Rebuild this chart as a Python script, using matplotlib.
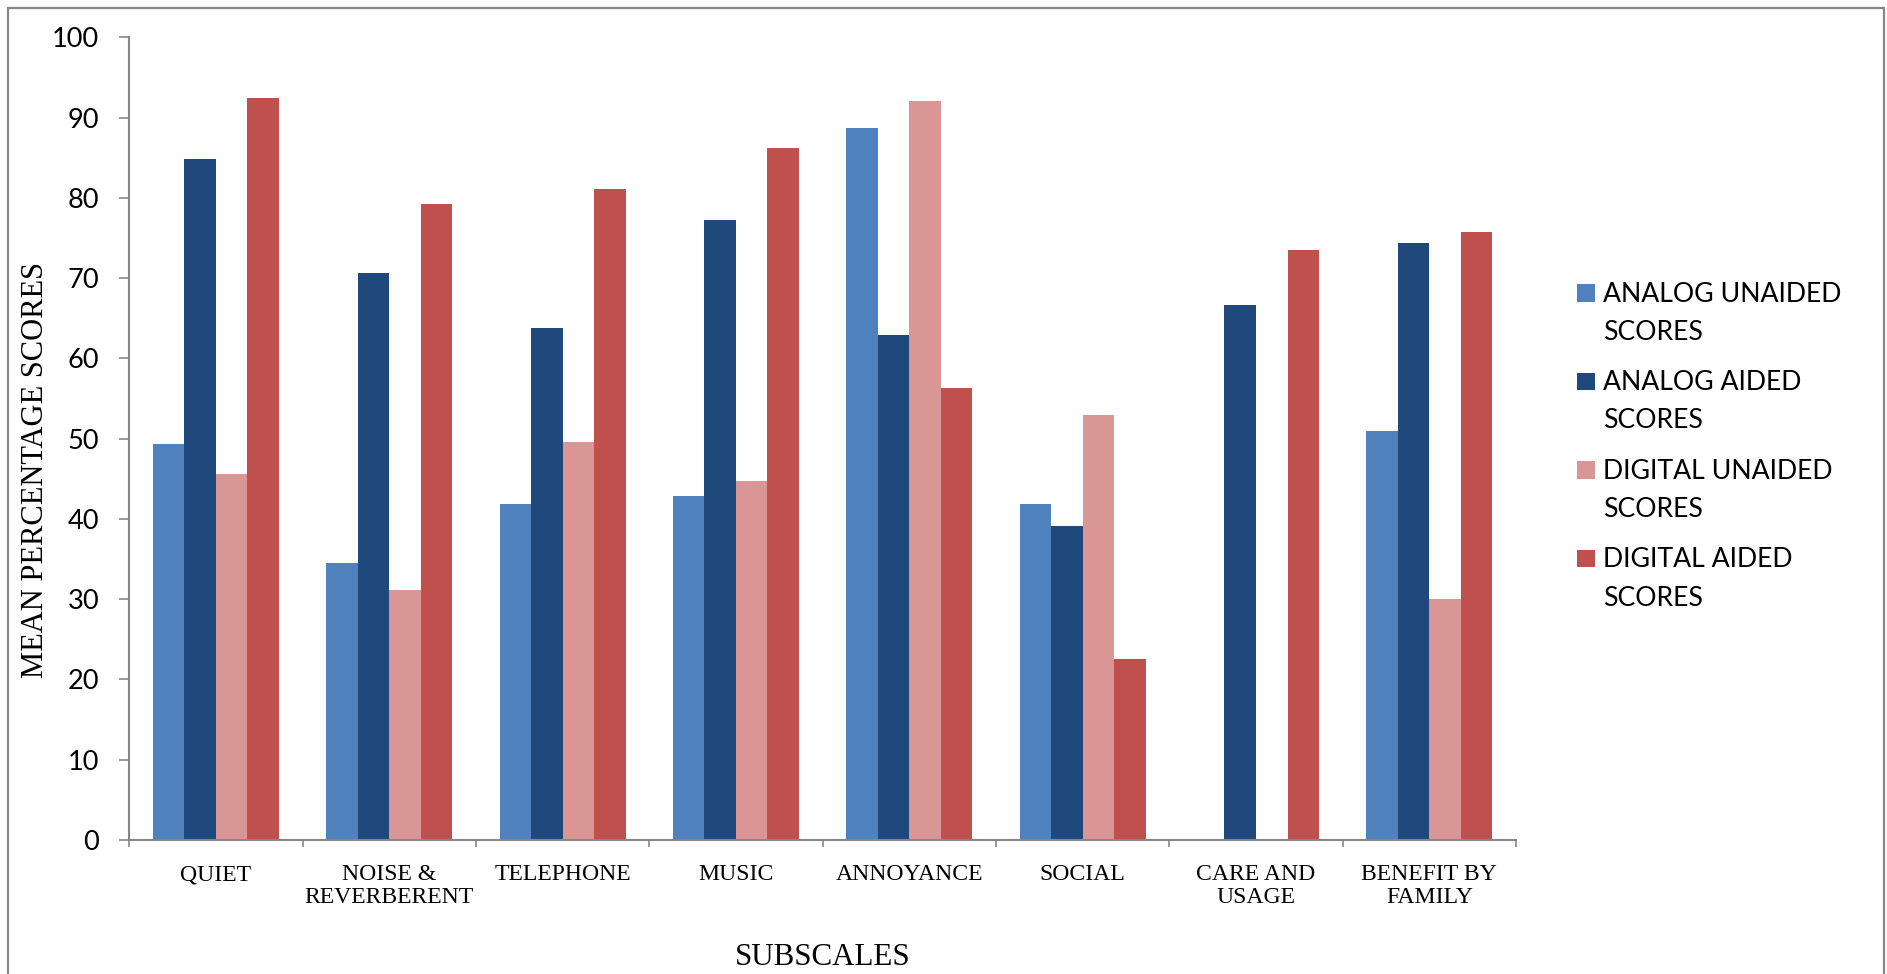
import numpy as np
import matplotlib
matplotlib.use("Agg")
import matplotlib.pyplot as plt
from matplotlib.patches import Rectangle

# ---- data -------------------------------------------------------------
subscales = ["QUIET", "NOISE &\nREVERBERENT", "TELEPHONE", "MUSIC",
             "ANNOYANCE", "SOCIAL", "CARE AND\nUSAGE", "BENEFIT BY\nFAMILY"]

analog_unaided = [49.3, 34.5, 41.8, 42.9, 88.7, 41.8, np.nan, 50.9]
analog_aided = [84.9, 70.6, 63.8, 77.3, 62.9, 39.1, 66.7, 74.4]
digital_unaided = [45.6, 31.2, 49.6, 44.7, 92.1, 53.0, np.nan, 30.0]
digital_aided = [92.5, 79.2, 81.1, 86.2, 56.3, 22.6, 73.5, 75.8]

series_names = ["ANALOG UNAIDED\nSCORES", "ANALOG AIDED\nSCORES",
                "DIGITAL UNAIDED\nSCORES", "DIGITAL AIDED\nSCORES"]
series_colors = ["#4F81BD", "#1F497D", "#D99694", "#C0504D"]

y_ticks = [0, 10, 20, 30, 40, 50, 60, 70, 80, 90, 100]

# ---- figure -----------------------------------------------------------
W, H = 1887, 974
fig = plt.figure(figsize=(W / 100, H / 100), dpi=100)
fig.patch.set_facecolor("white")

def fx(px):
    return px / W

def fy(py):
    return 1 - py / H

# outer frame around the chart area
fig.patches.append(Rectangle((fx(8), fy(990)), fx(1884) - fx(8), fy(8) - fy(990),
                             transform=fig.transFigure, fill=False,
                             edgecolor="#868686", linewidth=1.6))

ax_left, ax_right, ax_top, ax_bottom = 129.3, 1516, 37.3, 840
ax = fig.add_axes([fx(ax_left), fy(ax_bottom), fx(ax_right - ax_left),
                   (ax_bottom - ax_top) / H])

series = [analog_unaided, analog_aided, digital_unaided, digital_aided]
n_cat = len(subscales)
centers = np.arange(n_cat) + 0.5
bar_w = 1 / 5.5
for k, (vals, col) in enumerate(zip(series, series_colors)):
    ax.bar(centers + (k - 1.5) * bar_w, vals, width=bar_w, color=col,
           edgecolor="none", zorder=2)

ax.set_xlim(0, n_cat)
ax.set_ylim(0, 100)

for s in ["top", "right"]:
    ax.spines[s].set_visible(False)
for s in ["left", "bottom"]:
    ax.spines[s].set_color("#868686")
    ax.spines[s].set_linewidth(1.5)

ax.set_yticks(y_ticks)
ax.set_yticklabels([str(v) for v in y_ticks], family="Lato", fontsize=19.5)
ax.tick_params(axis="y", direction="out", length=7.2, width=1.2,
               color="#868686", pad=14.4)

ax.set_xticks(np.arange(n_cat + 1))
ax.set_xticklabels([])
ax.tick_params(axis="x", which="major", direction="out", length=5,
               width=1.2, color="#868686")
ax.set_xticks(centers, minor=True)
ax.set_xticklabels(subscales, minor=True, family="Liberation Serif",
                   fontsize=17.1, linespacing=1.1)
ax.tick_params(axis="x", which="minor", length=0, pad=17.5)

# axis titles
fig.text(fx(43.3), fy(470), "MEAN PERCENTAGE SCORES", rotation=90,
         rotation_mode="anchor", ha="center", va="baseline",
         family="Liberation Serif", fontsize=22.0)
fig.text(fx(822.6), fy(965), "SUBSCALES", ha="center", va="baseline",
         family="Liberation Serif", fontsize=22.3)

# legend
for k, (name, col) in enumerate(zip(series_names, series_colors)):
    top = 284.3 + 88.5 * k
    fig.patches.append(Rectangle((fx(1577), fy(top + 17.5)), fx(18), 17.5 / H,
                                 transform=fig.transFigure, facecolor=col,
                                 edgecolor="none"))
    for j, line in enumerate(name.split("\n")):
        fig.text(fx(1603), fy(301.7 + 88.5 * k + 38.3 * j), line,
                 ha="left", va="baseline", family="Lato", fontsize=19.2)

fig.savefig("out.png", dpi=100, facecolor="white")
